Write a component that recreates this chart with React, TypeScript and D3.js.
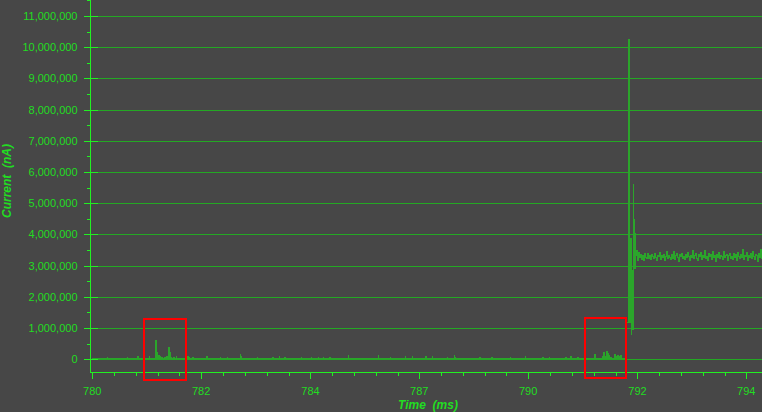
import { useEffect, useRef } from 'react';
import * as d3 from 'd3';

// current axis ticks (nA)
const currentTicks = [0, 1000000, 2000000, 3000000, 4000000, 5000000, 6000000, 7000000, 8000000, 9000000, 10000000, 11000000];

// time axis ticks (ms) and the labels the chart prints for them
const timeTicks = [780, 782.33, 784.67, 787, 789.33, 791.67, 794];
const timeTickLabels = ['780', '782', '784', '787', '790', '792', '794'];

// baseline level before the transient (nA)
const baselineCurrent = 10000;

// small spikes on the baseline: time (ms) / current (nA)
const spikeTimes = [
    780.315, 780.593, 780.743, 780.914, 780.978,
    781.214, 781.349, 781.370, 781.421, 781.449, 781.486, 781.556, 781.593, 781.627, 781.648, 781.678, 781.734, 781.792, 781.914,
    782.034, 782.064, 782.149, 782.306, 782.455, 782.734, 782.884, 783.162, 783.183, 783.526, 783.740, 783.868, 783.997,
    784.125, 784.468, 784.682, 784.832, 784.939, 785.088, 785.324, 785.474, 786.030, 786.116, 786.373, 786.694, 786.844,
    787.143, 787.272, 787.593, 787.743, 787.764, 788.299, 788.471, 788.556, 788.813, 788.942, 789.049, 789.263, 789.648,
    789.777, 790.140, 790.247, 790.397,
    790.761, 790.926, 790.947, 790.969, 791.003, 791.025, 791.061, 791.089, 791.175, 791.204, 791.247, 791.281, 791.303,
];
const spikeCurrents = [
    64000, 32000, 64000, 32000, 96000,
    96000, 609000, 224000, 128000, 96000, 64000, 64000, 96000, 385000, 224000, 64000, 64000, 96000, 32000,
    96000, 64000, 64000, 32000, 96000, 64000, 64000, 160000, 96000, 64000, 32000, 64000, 96000,
    64000, 64000, 64000, 64000, 64000, 64000, 32000, 128000, 32000, 128000, 64000, 96000, 96000,
    96000, 96000, 64000, 128000, 64000, 64000, 32000, 64000, 32000, 64000, 32000, 96000, 64000,
    64000, 64000, 96000, 64000,
    160000, 96000, 224000, 96000, 256000, 192000, 128000, 64000, 160000, 96000, 128000, 96000, 128000,
];
// one sample of the recorder (ms)
const sampleMs = 0.02;

// switching transient
const transientTimes = [791.425, 791.446, 791.468, 791.489, 791.504, 791.517, 791.532, 791.547, 791.562, 791.579, 791.592, 791.605, 791.618, 791.633, 791.648];
const transientCurrents = [40000, 1195000, 10263000, 9814000, 1195000, 3885000, 779000, 2861000, 939000, 5588000, 4467000, 2925000, 4046000, 3341000, 3501000];

// settled current after the transient
const settledTimes = [
    791.670, 791.691, 791.713, 791.734, 791.756, 791.777, 791.798, 791.820, 791.841, 791.863, 791.884, 791.905, 791.927, 791.948, 791.970, 791.991,
    792.012, 792.034, 792.055, 792.077, 792.098, 792.119, 792.141, 792.162, 792.184, 792.205, 792.226, 792.248, 792.269, 792.291, 792.312, 792.333,
    792.355, 792.376, 792.398, 792.419, 792.440, 792.462, 792.483, 792.505, 792.526, 792.547, 792.569, 792.590, 792.612, 792.633, 792.654, 792.676,
    792.697, 792.719, 792.740, 792.761, 792.783, 792.804, 792.826, 792.847, 792.868, 792.890, 792.911, 792.933, 792.954, 792.975, 792.997, 793.018,
    793.040, 793.061, 793.082, 793.104, 793.125, 793.147, 793.168, 793.189, 793.211, 793.232, 793.254, 793.275, 793.296, 793.318, 793.339, 793.361,
    793.382, 793.403, 793.425, 793.446, 793.468, 793.489, 793.510, 793.532, 793.553, 793.575, 793.596, 793.617, 793.639, 793.660, 793.682, 793.703,
    793.724, 793.746, 793.767, 793.789, 793.810, 793.831, 793.853, 793.874, 793.896, 793.917, 793.938, 793.960, 793.981, 794.003, 794.024, 794.045,
    794.067, 794.088, 794.110, 794.131, 794.152, 794.174, 794.195, 794.217, 794.238, 794.259, 794.281, 794.302, 794.324, 794.345,
];
const settledCurrents = [
    3180000, 3420000, 3250000, 3360000, 3210000, 3330000, 3150000, 3380000, 3270000, 3220000, 3400000, 3240000, 3310000, 3190000, 3350000, 3280000,
    3230000, 3390000, 3260000, 3170000, 3340000, 3290000, 3410000, 3200000, 3320000, 3250000, 3370000, 3180000, 3300000, 3440000, 3220000, 3330000,
    3270000, 3210000, 3360000, 3240000, 3450000, 3190000, 3310000, 3380000, 3260000, 3140000, 3350000, 3280000, 3400000, 3230000, 3300000, 3200000,
    3370000, 3250000, 3430000, 3290000, 3160000, 3340000, 3270000, 3480000, 3220000, 3310000, 3390000, 3240000, 3180000, 3360000, 3290000, 3420000,
    3210000, 3330000, 3260000, 3500000, 3230000, 3300000, 3170000, 3380000, 3280000, 3350000, 3200000, 3440000, 3270000, 3320000, 3130000, 3370000,
    3250000, 3410000, 3220000, 3340000, 3290000, 3190000, 3460000, 3260000, 3310000, 3360000, 3150000, 3330000, 3400000, 3240000, 3280000, 3210000,
    3390000, 3270000, 3350000, 3180000, 3430000, 3300000, 3230000, 3370000, 3260000, 3520000, 3200000, 3320000, 3280000, 3410000, 3160000, 3340000,
    3250000, 3380000, 3220000, 3470000, 3290000, 3190000, 3360000, 3310000, 3120000, 3400000, 3270000, 3530000, 3240000, 3330000,
];

// red highlight boxes (ms / nA)
const boxStartTimes = [781.11, 790.54];
const boxEndTimes = [782.0, 791.42];
const boxTopCurrents = [1305000, 1320000];
const boxBottomCurrents = [-650000, -600000];

const W = 762;
const H = 412;

const App = () => {
    const svgRef = useRef<SVGSVGElement>(null);

    useEffect(() => {
        const root = d3.select(svgRef.current);
        root.selectAll('*').remove();

        const bg = '#474747';
        const axisColor = '#22f022';
        const gridColor = '#24a824';
        const textColor = '#22dd22';
        const traceColor = '#2ba52b';
        const font = '"Liberation Sans", Arial, sans-serif';

        const plotLeft = 90;
        const plotRight = W;
        const plotBottom = 372.5;

        const x = d3.scaleLinear().domain([780, 794]).range([92.3, 746.3]);
        const y = d3.scaleLinear().domain([0, 11000000]).range([359.3, 16]);
        const px = (v: number) => Math.round(v) + 0.5;

        root.append('rect').attr('width', W).attr('height', H).attr('fill', bg);

        // grid
        root.append('g')
            .selectAll('line')
            .data(currentTicks)
            .enter()
            .append('line')
            .attr('x1', plotLeft)
            .attr('x2', plotRight)
            .attr('y1', (d) => px(y(d)))
            .attr('y2', (d) => px(y(d)))
            .attr('stroke', gridColor)
            .attr('shape-rendering', 'crispEdges');

        // trace
        type Pt = { t: number; c: number };
        const pts: Pt[] = [{ t: 780, c: baselineCurrent }];
        spikeTimes.forEach((t, i) => {
            pts.push({ t, c: spikeCurrents[i] });
            pts.push({ t: t + sampleMs, c: baselineCurrent });
        });
        transientTimes.forEach((t, i) => pts.push({ t, c: transientCurrents[i] }));
        const n = Math.min(settledTimes.length, settledCurrents.length);
        for (let i = 0; i < n; i++) pts.push({ t: settledTimes[i], c: settledCurrents[i] });
        pts.sort((a, b) => a.t - b.t);

        const line = d3.line<Pt>()
            .x((d) => x(d.t))
            .y((d) => y(d.c))
            .curve(d3.curveStepAfter);

        root.append('path')
            .datum(pts)
            .attr('d', line)
            .attr('fill', 'none')
            .attr('stroke', traceColor)
            .attr('stroke-width', 1)
            .attr('shape-rendering', 'crispEdges');

        // y axis
        const yAxis = root.append('g');
        yAxis.append('line')
            .attr('x1', plotLeft + 0.5).attr('x2', plotLeft + 0.5)
            .attr('y1', 0).attr('y2', plotBottom)
            .attr('stroke', axisColor).attr('shape-rendering', 'crispEdges');
        currentTicks.forEach((d) => {
            yAxis.append('line')
                .attr('x1', 84).attr('x2', 98)
                .attr('y1', px(y(d))).attr('y2', px(y(d)))
                .attr('stroke', axisColor).attr('shape-rendering', 'crispEdges');
            const mid = d + 500000;
            yAxis.append('line')
                .attr('x1', 87).attr('x2', 90)
                .attr('y1', px(y(mid))).attr('y2', px(y(mid)))
                .attr('stroke', axisColor).attr('shape-rendering', 'crispEdges');
            yAxis.append('text')
                .attr('x', 77.5)
                .attr('y', y(d) + 4)
                .attr('text-anchor', 'end')
                .attr('fill', textColor)
                .style('font-family', font)
                .style('font-size', '11px')
                .text(d3.format(',')(d));
        });

        // x axis
        const xAxis = root.append('g');
        xAxis.append('line')
            .attr('x1', plotLeft).attr('x2', plotRight)
            .attr('y1', Math.floor(plotBottom) + 0.5).attr('y2', Math.floor(plotBottom) + 0.5)
            .attr('stroke', axisColor).attr('shape-rendering', 'crispEdges');
        timeTicks.forEach((d, i) => {
            const xp = px(x(d));
            xAxis.append('line')
                .attr('x1', xp).attr('x2', xp)
                .attr('y1', 372).attr('y2', 379)
                .attr('stroke', axisColor).attr('shape-rendering', 'crispEdges');
            if (i < timeTicks.length - 1) {
                const step = (x(timeTicks[i + 1]) - x(d)) / 5;
                for (let k = 1; k < 5; k++) {
                    const mx = px(x(d) + step * k);
                    xAxis.append('line')
                        .attr('x1', mx).attr('x2', mx)
                        .attr('y1', 372).attr('y2', 376)
                        .attr('stroke', axisColor).attr('shape-rendering', 'crispEdges');
                }
            }
            xAxis.append('text')
                .attr('x', x(d))
                .attr('y', 395)
                .attr('text-anchor', 'middle')
                .attr('fill', textColor)
                .style('font-family', font)
                .style('font-size', '11px')
                .text(timeTickLabels[i]);
        });

        // axis titles
        root.append('text')
            .attr('x', (plotLeft + plotRight) / 2 + 2)
            .attr('y', 409)
            .attr('text-anchor', 'middle')
            .attr('fill', textColor)
            .style('font-family', font)
            .style('font-size', '12px')
            .style('font-weight', 'bold')
            .style('font-style', 'italic')
            .style('white-space', 'pre')
            .text('Time  (ms)');

        root.append('text')
            .attr('transform', 'translate(10.5,181) rotate(-90)')
            .attr('text-anchor', 'middle')
            .attr('fill', textColor)
            .style('font-family', font)
            .style('font-size', '12px')
            .style('font-weight', 'bold')
            .style('font-style', 'italic')
            .style('white-space', 'pre')
            .text('Current  (nA)');

        // highlight boxes
        boxStartTimes.forEach((t0, i) => {
            const x0 = x(t0);
            const x1 = x(boxEndTimes[i]);
            const y0 = y(boxTopCurrents[i]);
            const y1 = y(boxBottomCurrents[i]);
            root.append('rect')
                .attr('x', Math.round(x0))
                .attr('y', Math.round(y0))
                .attr('width', Math.round(x1 - x0))
                .attr('height', Math.round(y1 - y0))
                .attr('fill', 'none')
                .attr('stroke', '#ff0000')
                .attr('stroke-width', 2);
        });
    }, []);

    return (
        <svg
            ref={svgRef}
            width={W}
            height={H}
            style={{ position: 'absolute', left: 0, top: 0, display: 'block' }}
        />
    );
};

export default App;
